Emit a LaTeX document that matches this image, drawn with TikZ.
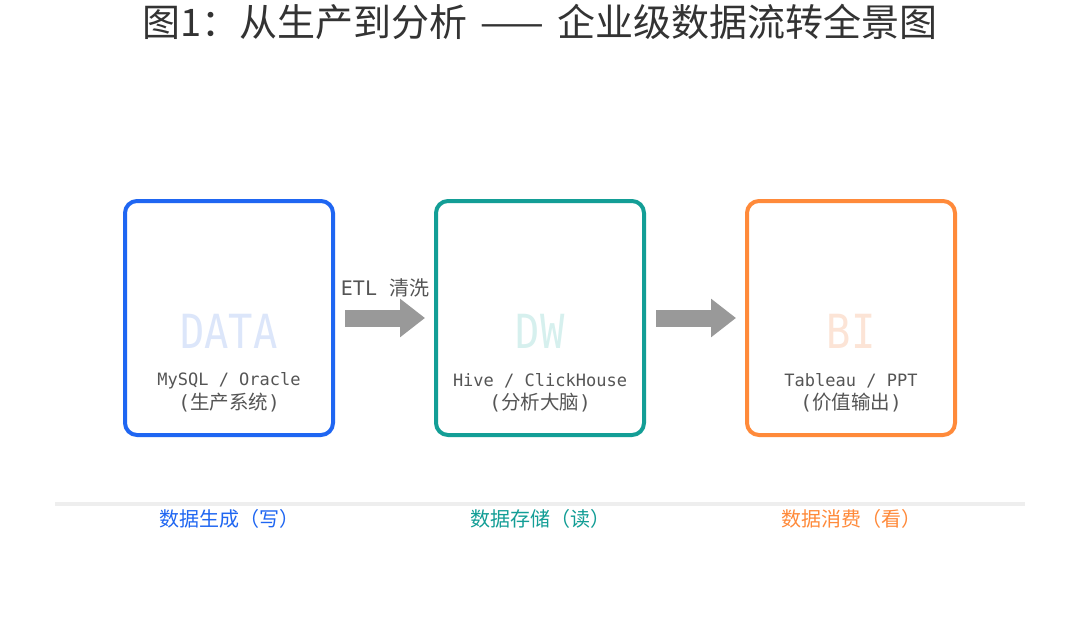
\documentclass[tikz,border=0pt]{standalone}
\usepackage{fontspec}
\setmainfont{Noto Sans CJK SC}
\newfontfamily\monof{DejaVu Sans Mono}
\usetikzlibrary{arrows.meta}
\definecolor{cblue}{HTML}{1F66F2}
\definecolor{cteal}{HTML}{139E96}
\definecolor{corange}{HTML}{FF8A3A}
\definecolor{wblue}{HTML}{DCE6FA}
\definecolor{wteal}{HTML}{D6F0EE}
\definecolor{worange}{HTML}{FCE4D6}
\definecolor{titlegray}{HTML}{333333}
\definecolor{textgray}{HTML}{555555}
\definecolor{arrowgray}{HTML}{999999}
\definecolor{linegray}{HTML}{EEEEEE}
\newcommand{\wm}[1]{\scalebox{0.86}[1]{#1}}
\begin{document}
\begin{tikzpicture}[x=1pt,y=-1pt,
  stagebox/.style={line width=4pt, rounded corners=12pt, minimum width=208pt, minimum height=234pt, outer sep=0pt, inner sep=0pt},
  watermark/.style={font=\monof\fontsize{47}{50}\selectfont, inner sep=0pt},
  subtext/.style={font=\fontsize{19.5}{22}\selectfont, text=textgray, inner sep=0pt},
  monotext/.style={font=\monof\fontsize{17}{20}\selectfont, text=textgray, inner sep=0pt},
  blockarrow/.style={draw=arrowgray, line width=17pt, -{Triangle[length=25pt,width=37pt]}},
  footlabel/.style={font=\fontsize{20}{24}\selectfont, inner sep=0pt},
  sepline/.style={draw=linegray, line width=4pt}
]
\useasboundingbox[fill=white] (0,0) rectangle (1080,642);

\node[font=\fontsize{38}{42}\selectfont, text=titlegray, inner sep=0pt] (title) at (540,22) {图1：从生产到分析\hspace{13pt}——\hspace{13pt}企业级数据流转全景图};

\node[stagebox, draw=cblue] (s1) at (229,318) {};
\node[stagebox, draw=cteal] (s2) at (540,318) {};
\node[stagebox, draw=corange] (s3) at (851,318) {};

\node[watermark, text=wblue] (w1) at (229,331) {\wm{DATA}};
\node[watermark, text=wteal] (w2) at (540,331) {\wm{DW}};
\node[watermark, text=worange] (w3) at (851,331) {\wm{BI}};

\node[monotext] (a1) at (229,381) {MySQL / Oracle};
\node[subtext] (b1) at (229,403) {{\monof(}生产系统{\monof)}};
\node[monotext] (a2) at (540,381) {Hive / ClickHouse};
\node[subtext] (b2) at (540,403) {{\monof(}分析大脑{\monof)}};
\node[monotext] (a3) at (851,381) {Tableau / PPT};
\node[subtext] (b3) at (851,403) {{\monof(}价值输出{\monof)}};

\draw[blockarrow] ([xshift=12pt]s1.east) -- ([xshift=-11pt]s2.west)
  node[midway, yshift=30pt, text=textgray, font=\fontsize{20}{24}\selectfont, inner sep=0pt] (etl) {{\monof ETL }清洗};
\draw[blockarrow] ([xshift=12pt]s2.east) -- ([xshift=-11pt]s3.west);

\coordinate (l1) at (55,504);
\coordinate (l2) at (1025,504);
\draw[sepline] (l1) -- (l2);

\node[footlabel, text=cblue] (f1) at (229,519) {数据生成（写）};
\node[footlabel, text=cteal] (f2) at (540,519) {数据存储（读）};
\node[footlabel, text=corange] (f3) at (851,519) {数据消费（看）};
\end{tikzpicture}
\end{document}
